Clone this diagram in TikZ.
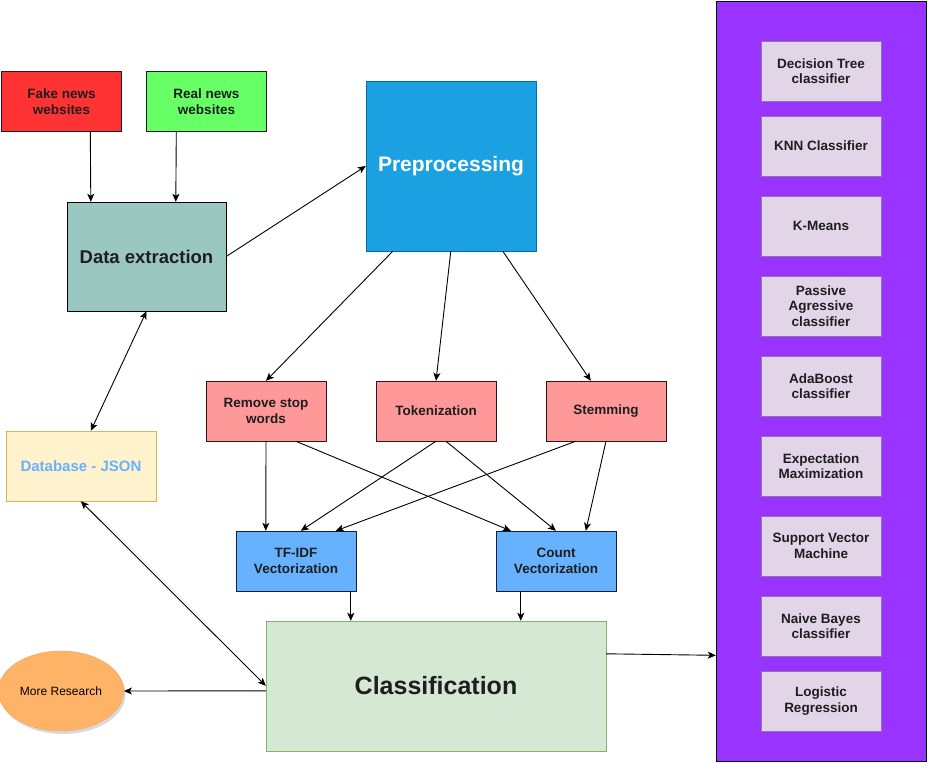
\documentclass[tikz,border=0pt]{standalone}
\usepackage{fontspec}
\setmainfont{Liberation Sans}
\usepackage{xcolor}
\usetikzlibrary{calc, positioning, shadows, shapes.geometric, arrows.meta}

\begin{document}
\begin{tikzpicture}[x=1pt, y=-1pt]
    \tikzset{
      box/.style={
        rectangle, draw, minimum width=120pt, minimum height=60pt,
        align=center, font=\fontsize{13.5}{15.5}\selectfont\bfseries,
        text={rgb,255:red,30;green,30;blue,30},
      },
      source/.style={box, draw={rgb,255:red,30;green,30;blue,30}},
      prepstep/.style={box, fill={rgb,255:red,255;green,153;blue,153},
        draw={rgb,255:red,50;green,20;blue,20}},
      vector/.style={box, fill={rgb,255:red,102;green,178;blue,255},
        draw={rgb,255:red,20;green,30;blue,60}},
      model/.style={box, fill={rgb,255:red,225;green,213;blue,231},
        draw={rgb,255:red,150;green,115;blue,166}},
      link/.style={-{Stealth[length=8pt,width=7pt,inset=2pt]}, draw, line width=0.9pt},
      both/.style={{Stealth[length=8pt,width=7pt,inset=2pt]}-{Stealth[length=8pt,width=7pt,inset=2pt]}, draw, line width=0.9pt},
    }
    \useasboundingbox (0,0) rectangle (928,763);

    % sources
    \node[source, fill={rgb,255:red,255;green,51;blue,51}] (fake) at (61.5,101.5) {Fake news\\websites};
    \node[source, fill={rgb,255:red,102;green,255;blue,102}] (real) at (206.5,101.5) {Real news\\websites};
    \node[box, minimum width=159pt, minimum height=109pt,
      fill={rgb,255:red,154;green,199;blue,191},
      font=\fontsize{18.5}{21}\selectfont\bfseries] (extract) at (146.5,256.5) {Data extraction};
    \node[box, minimum width=170pt, minimum height=170pt,
      fill={rgb,255:red,27;green,161;blue,226}, draw={rgb,255:red,0;green,110;blue,175},
      text=white, font=\fontsize{21}{25}\selectfont\bfseries] (prep) at (451,166) {Preprocessing};
    \node[box, minimum width=150pt, minimum height=70pt,
      fill={rgb,255:red,255;green,242;blue,204}, draw={rgb,255:red,214;green,182;blue,86},
      text={rgb,255:red,102;green,178;blue,255},
      font=\fontsize{15}{18}\selectfont\bfseries] (db) at (81,466) {Database - JSON};

    % preprocessing steps
    \node[prepstep] (stop) at (266,411) {Remove stop\\words};
    \node[prepstep] (token) at (436,411) {Tokenization};
    \node[prepstep] (stem) at (606,411) {Stemming};

    % vectorizers
    \node[vector] (tfidf) at (296,561) {TF-IDF\\Vectorization};
    \node[vector] (count) at (556,561) {Count\\Vectorization};

    \node[box, minimum width=340pt, minimum height=130pt,
      fill={rgb,255:red,213;green,232;blue,212}, draw={rgb,255:red,130;green,179;blue,102},
      font=\fontsize{25}{29}\selectfont\bfseries] (classify) at (436,686) {Classification};
    \node[ellipse, draw={rgb,255:red,240;green,165;blue,90}, fill={rgb,255:red,255;green,179;blue,102},
      minimum width=120pt, minimum height=80pt, font=\fontsize{12}{14}\selectfont,
      drop shadow={shadow xshift=2pt, shadow yshift=-3pt, opacity=0.3}] (more) at (61,691) {More Research};

    % classifiers
    \node[box, minimum width=210pt, minimum height=760pt,
      fill={rgb,255:red,153;green,51;blue,255}, draw=black] (models) at (821,381.5) {};
    \node[model] (m1) at (821,71) {Decision Tree\\classifier};
    \node[model] (m2) at (821,146) {KNN Classifier};
    \node[model] (m3) at (821,226) {K-Means};
    \node[model] (m4) at (821,306) {Passive\\Agressive\\classifier};
    \node[model] (m5) at (821,386) {AdaBoost\\classifier};
    \node[model] (m6) at (821,466) {Expectation\\Maximization};
    \node[model] (m7) at (821,546) {Support Vector\\Machine};
    \node[model] (m8) at (821,626) {Naive Bayes\\classifier};
    \node[model] (m9) at (821,701) {Logistic\\Regression};

    % connectors
    \draw[link] ($(fake.south west)+(89,0)$) -- ($(extract.north west)+(24,0)$);
    \draw[link] ($(real.south west)+(30,0)$) -- ($(extract.north west)+(109,0)$);
    \draw[link] (extract.east) -- (prep.west);
    \draw[both] (extract.south) -- ($(db.north west)+(85,0)$);
    \draw[link] ($(prep.south west)+(27,0)$) -- (stop.north);
    \draw[link] ($(prep.south west)+(85,0)$) -- (token.north);
    \draw[link] ($(prep.south west)+(137,0)$) -- ($(stem.north west)+(45,0)$);
    \draw[link] (stop.south) -- ($(tfidf.north west)+(30,0)$);
    \draw[link] ($(stop.south west)+(90,0)$) -- ($(count.north west)+(15,0)$);
    \draw[link] (token.south) -- ($(tfidf.north west)+(65,0)$);
    \draw[link] ($(token.south west)+(70,0)$) -- (count.north);
    \draw[link] ($(stem.south west)+(30,0)$) -- ($(tfidf.north west)+(100,0)$);
    \draw[link] (stem.south) -- ($(count.north west)+(90,0)$);
    \draw[link] ($(tfidf.south west)+(115,0)$) -- ($(classify.north west)+(85,0)$);
    \draw[link] ($(count.south west)+(25,0)$) -- ($(classify.north west)+(255,0)$);
    \draw[both] ($(db.south west)+(75,0)$) -- ($(classify.north west)+(0,65)$);
    \draw[link] ($(classify.north west)+(0,70)$) -- (more.east);
    \draw[link] ($(classify.north east)+(0,33)$) -- ($(models.north west)+(0,654)$);
  \end{tikzpicture}
\end{document}
